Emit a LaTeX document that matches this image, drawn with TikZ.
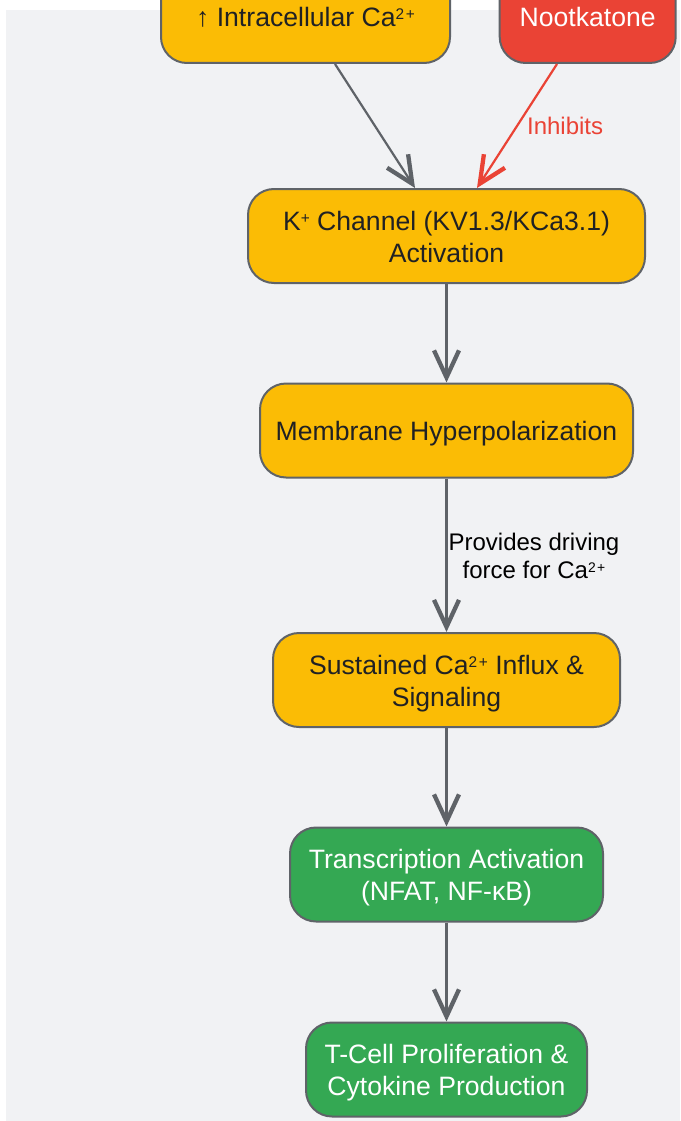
\documentclass[tikz,border=0pt]{standalone}
\usepackage{fontspec}
\usepackage{graphicx}
\setmainfont{Liberation Sans}
\usetikzlibrary{arrows.meta}
\definecolor{bggray}{HTML}{F1F2F4}
\definecolor{gyellow}{HTML}{FBBC05}
\definecolor{gred}{HTML}{EA4335}
\definecolor{ggreen}{HTML}{34A853}
\definecolor{edgegray}{HTML}{5F6368}
\definecolor{darktext}{HTML}{202124}
\newcommand{\sups}[1]{\raisebox{0.27em}{\scalebox{0.58}{#1}}}
\newcommand{\twoplus}{\sups{2\kern0.1em+}}
\newcommand{\btext}[1]{\raisebox{0pt}[\dimexpr\height+8pt\relax][\depth]{\begin{tabular}{@{}c@{}}#1\end{tabular}}}
\tikzset{
  box/.style={draw=edgegray, line width=2pt, rounded corners=26pt, inner sep=0pt,
    minimum height=94pt, font=\fontsize{26.6}{32}\selectfont},
  ybox/.style={box, fill=gyellow, text=darktext},
  rbox/.style={box, fill=gred, text=white},
  gbox/.style={box, fill=ggreen, text=white},
  flow/.style={draw=edgegray, line width=2.2pt,
    -{Straight Barb[length=27pt,width=25pt,line width=4.3pt]}},
  inhib/.style={draw=gred, line width=2.2pt,
    -{Straight Barb[length=27pt,width=25pt,line width=4.3pt]}},
  elabel/.style={font=\fontsize{24}{28}\selectfont, align=center, inner sep=0pt}
}
\begin{document}
\begin{tikzpicture}[x=1pt,y=-1pt]
\useasboundingbox (0,0) rectangle (680,1121);
\clip (0,0) rectangle (680,1121);
\fill[white] (0,0) rectangle (680,1121);
\fill[bggray] (6,10) rectangle (680,1121);

\node[ybox, minimum width=289pt] (ca) at (305.5,16) {\btext{↑ Intracellular Ca\twoplus}};
\node[rbox, minimum width=176pt] (noot) at (587.7,16) {\btext{Nootkatone}};
\node[ybox, minimum width=397pt] (kch) at (446.5,236) {\btext{K\sups{+} Channel (KV1.3/KCa3.1)\\Activation}};
\node[ybox, minimum width=373pt] (hyp) at (446.5,430.5) {\btext{Membrane Hyperpolarization}};
\node[ybox, minimum width=347pt] (sus) at (446.5,680) {\btext{Sustained Ca\twoplus{} Influx \&\\Signaling}};
\node[gbox, minimum width=313pt] (tra) at (446.5,874.5) {\btext{Transcription Activation\\(NFAT, NF-κB)}};
\node[gbox, minimum width=281pt] (tce) at (446.5,1069.5) {\btext{T-Cell Proliferation \&\\Cytokine Production}};

\draw[flow] ([xshift=29.5pt]ca.south) -- ([xshift=-31.5pt]kch.north);
\draw[inhib] ([xshift=-30.7pt]noot.south) -- ([xshift=30.5pt]kch.north)
  node[pos=0.5, elabel, text=gred, right=9pt] (inl) {Inhibits};
\draw[flow] (kch) -- (hyp);
\draw[flow] (hyp) -- (sus);
\node[elabel, text=black] (drv) at (534,556) {Provides driving\\force for Ca\twoplus};
\draw[flow] (sus) -- (tra);
\draw[flow] (tra) -- (tce);
\end{tikzpicture}
\end{document}
